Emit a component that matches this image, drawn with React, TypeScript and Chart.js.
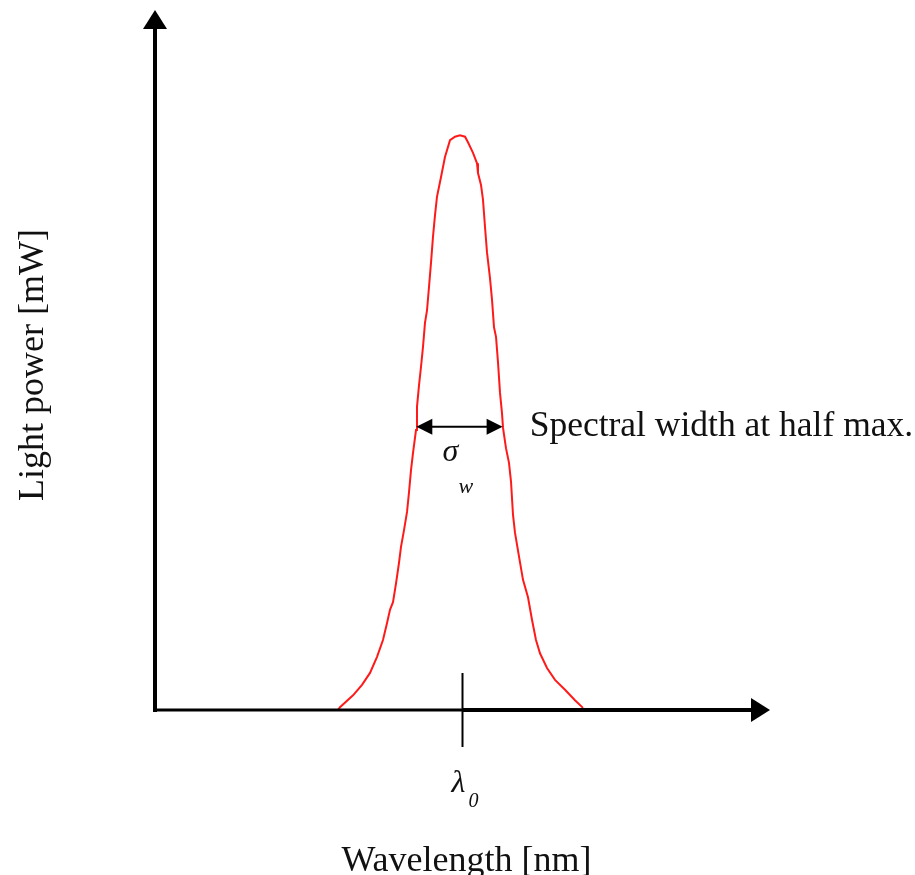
import React, { useEffect, useRef } from "react";
import { Chart, registerables } from "chart.js";

Chart.register(...registerables);

// Wavelength offset from the centre wavelength λ0 (arbitrary units)
const wavelengthOffset = [
  -20.24, -19.92, -17.8, -16.34, -15.04, -13.9, -12.93, -12.28, -11.79, -11.3,
  -10.81, -10.33, -10.0, -9.51, -9.02, -8.7, -8.37, -8.05, -7.56, -7.4, -7.07,
  -6.75, -6.42, -6.1, -5.77, -5.45, -5.12, -4.8, -4.47, -4.15, -3.5, -2.85,
  -2.03, -1.22, -0.41, 0.41, 0.89, 1.71, 2.36, 2.52, 3.01, 3.33, 3.66, 3.98,
  4.47, 4.8, 5.12, 5.45, 5.77, 6.1, 6.42, 6.59, 7.07, 7.56, 7.89, 8.21, 8.54,
  9.19, 9.84, 10.65, 11.3, 11.95, 12.6, 13.74, 15.04, 16.67, 18.29, 19.59,
];

// Light power (normalised, mW)
const lightPower = [
  0.0, 0.004, 0.021, 0.036, 0.053, 0.076, 0.1, 0.124, 0.143, 0.154, 0.181,
  0.21, 0.233, 0.257, 0.283, 0.311, 0.343, 0.367, 0.4, 0.433, 0.464, 0.49,
  0.519, 0.553, 0.571, 0.604, 0.639, 0.676, 0.707, 0.733, 0.761, 0.79, 0.814,
  0.819, 0.821, 0.819, 0.811, 0.796, 0.781, 0.767, 0.75, 0.729, 0.69, 0.654,
  0.617, 0.586, 0.547, 0.533, 0.497, 0.453, 0.424, 0.403, 0.374, 0.353, 0.326,
  0.279, 0.253, 0.219, 0.186, 0.161, 0.129, 0.1, 0.081, 0.06, 0.043, 0.029,
  0.014, 0.003,
];

const xRange = [-50, 50];
const yRange = [0, 1];

const centerLabel = "λ";
const centerSub = "0";
const widthSymbol = "σ";
const widthSub = "w";
const widthLabel = "Spectral width at half max.";
const xTitle = "Wavelength [nm]";
const yTitle = "Light power [mW]";

const SERIF = '"Liberation Serif", "Times New Roman", serif';

function crossing(target: number, side: "left" | "right"): number {
  const n = lightPower.length;
  if (side === "left") {
    for (let i = 1; i < n; i++) {
      if (lightPower[i - 1] < target && lightPower[i] >= target) {
        const t = (target - lightPower[i - 1]) / (lightPower[i] - lightPower[i - 1]);
        return wavelengthOffset[i - 1] + t * (wavelengthOffset[i] - wavelengthOffset[i - 1]);
      }
    }
  } else {
    for (let i = n - 1; i > 0; i--) {
      if (lightPower[i] < target && lightPower[i - 1] >= target) {
        const t = (lightPower[i - 1] - target) / (lightPower[i - 1] - lightPower[i]);
        return wavelengthOffset[i - 1] + t * (wavelengthOffset[i] - wavelengthOffset[i - 1]);
      }
    }
  }
  return 0;
}

const decorPlugin = {
  id: "decor",
  afterDraw(chart: any) {
    const { ctx, chartArea, scales } = chart;
    const xs = scales.x;
    const ys = scales.y;
    const left = chartArea.left;
    const right = chartArea.right;
    const top = chartArea.top;
    const y0 = ys.getPixelForValue(0);
    const xc = xs.getPixelForValue(0);
    ctx.save();
    ctx.fillStyle = "#000";
    ctx.strokeStyle = "#000";

    // Y axis
    ctx.lineWidth = 4;
    ctx.beginPath();
    ctx.moveTo(left, y0 + 2);
    ctx.lineTo(left, top + 16);
    ctx.stroke();
    ctx.beginPath();
    ctx.moveTo(left, top);
    ctx.lineTo(left - 12, top + 19);
    ctx.lineTo(left + 12, top + 19);
    ctx.closePath();
    ctx.fill();

    // X axis
    ctx.lineWidth = 3;
    ctx.beginPath();
    ctx.moveTo(left, y0);
    ctx.lineTo(xc, y0);
    ctx.stroke();
    ctx.lineWidth = 4;
    ctx.beginPath();
    ctx.moveTo(xc, y0);
    ctx.lineTo(right - 16, y0);
    ctx.stroke();
    ctx.beginPath();
    ctx.moveTo(right, y0);
    ctx.lineTo(right - 19, y0 - 12);
    ctx.lineTo(right - 19, y0 + 12);
    ctx.closePath();
    ctx.fill();

    // λ0 tick
    ctx.lineWidth = 2;
    ctx.beginPath();
    ctx.moveTo(xc, y0 - 37);
    ctx.lineTo(xc, y0 + 37);
    ctx.stroke();

    // Half max double arrow
    const peak = Math.max(...lightPower);
    const half = peak / 2;
    const hy = ys.getPixelForValue(half) + 4;
    const xl = xs.getPixelForValue(crossing(half, "left"));
    const xr = xs.getPixelForValue(crossing(half, "right"));
    ctx.lineWidth = 2;
    ctx.beginPath();
    ctx.moveTo(xl + 10, hy);
    ctx.lineTo(xr - 10, hy);
    ctx.stroke();
    ctx.beginPath();
    ctx.moveTo(xl, hy);
    ctx.lineTo(xl + 16, hy - 8);
    ctx.lineTo(xl + 16, hy + 8);
    ctx.closePath();
    ctx.fill();
    ctx.beginPath();
    ctx.moveTo(xr, hy);
    ctx.lineTo(xr - 16, hy - 8);
    ctx.lineTo(xr - 16, hy + 8);
    ctx.closePath();
    ctx.fill();

    // Labels
    ctx.fillStyle = "#111";
    ctx.textBaseline = "alphabetic";
    ctx.textAlign = "left";
    ctx.font = `35.5px ${SERIF}`;
    ctx.fillText(widthLabel, xr + 27, hy + 9);

    ctx.font = `italic 32px ${SERIF}`;
    ctx.fillText(widthSymbol, xc - 20, hy + 34);
    ctx.font = `italic 22px ${SERIF}`;
    ctx.fillText(widthSub, xc - 4, hy + 66);

    ctx.font = `italic 32px ${SERIF}`;
    ctx.fillText(centerLabel, xc - 11, y0 + 82);
    ctx.font = `italic 20px ${SERIF}`;
    ctx.fillText(centerSub, xc + 6, y0 + 97);

    ctx.textAlign = "center";
    ctx.font = `36px ${SERIF}`;
    ctx.fillText(xTitle, xc + 4, y0 + 161);

    ctx.save();
    ctx.translate(left - 112, 365);
    ctx.rotate(-Math.PI / 2);
    ctx.font = `36px ${SERIF}`;
    ctx.fillText(yTitle, 0, 0);
    ctx.restore();

    ctx.restore();
  },
};

export default function App() {
  const canvasRef = useRef<HTMLCanvasElement | null>(null);

  useEffect(() => {
    const canvas = canvasRef.current;
    if (!canvas) return;
    const chart = new Chart(canvas, {
      type: "line",
      data: {
        datasets: [
          {
            label: "Spectrum",
            data: wavelengthOffset.map((x, i) => ({ x, y: lightPower[i] })),
            borderColor: "#ff1a1a",
            borderWidth: 2,
            pointRadius: 0,
            tension: 0,
            fill: false,
          },
        ],
      },
      options: {
        responsive: false,
        animation: false,
        layout: { padding: { left: 155, right: 145, top: 10, bottom: 165 } },
        plugins: {
          legend: { display: false },
          tooltip: { enabled: false },
          title: { display: false },
        },
        scales: {
          x: { type: "linear", display: false, min: xRange[0], max: xRange[1] },
          y: { type: "linear", display: false, min: yRange[0], max: yRange[1] },
        },
      },
      plugins: [decorPlugin],
    });
    return () => chart.destroy();
  }, []);

  return (
    <div style={{ position: "fixed", left: 0, top: 0, width: 915, height: 875, background: "#fff" }}>
      <canvas ref={canvasRef} width={915} height={875} style={{ width: 915, height: 875, display: "block" }} />
    </div>
  );
}
